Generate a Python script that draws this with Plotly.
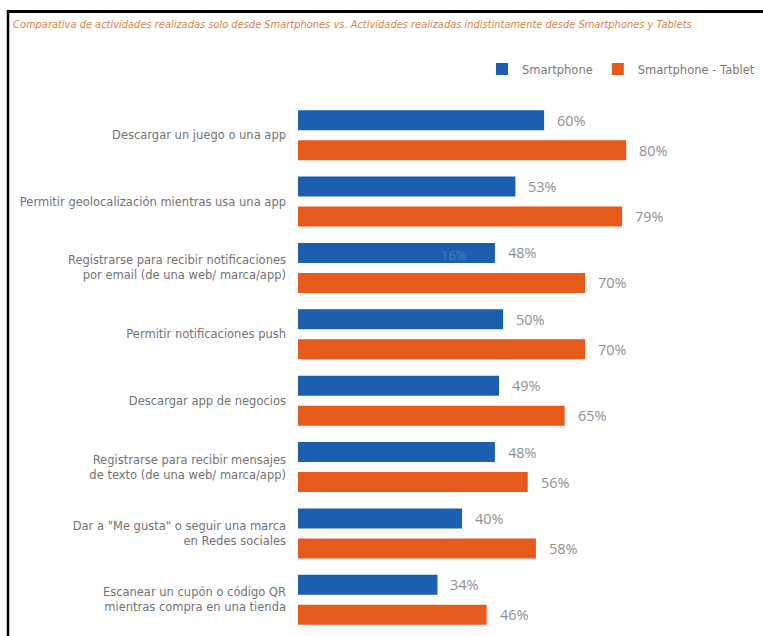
import plotly.graph_objects as go

# ---------------- data ----------------
categories = [
    "Descargar un juego o una app",
    "Permitir geolocalización mientras usa una app",
    "Registrarse para recibir notificaciones<br>por email (de una web/ marca/app)",
    "Permitir notificaciones push",
    "Descargar app de negocios",
    "Registrarse para recibir mensajes<br>de texto (de una web/ marca/app)",
    "Dar a \"Me gusta\" o seguir una marca<br>en Redes sociales",
    "Escanear un cupón o código QR<br>mientras compra en una tienda",
]
smartphone = [60, 53, 48, 50, 49, 48, 40, 34]
smartphone_tablet = [80, 79, 70, 70, 65, 56, 58, 46]
series_names = ["Smartphone", "Smartphone - Tablet"]
title_text = ("Comparativa de actividades realizadas solo desde Smartphones vs. "
              "Actividades realizadas indistintamente desde Smartphones y Tablets")
ghost_label = "16%"
ghost_value = 38
ghost_category_index = 2

# ---------------- layout constants ----------------
W, H = 763, 636
ML, MR, MT, MB = 298, 63, 102, 3
XMAX = 98.0
BLUE = "#1c5fb0"
ORANGE = "#e65a1c"
LABEL_GRAY = "#737373"
VALUE_GRAY = "#909090"
FONT = "DejaVu Sans"
VFONT = "Open Sans"

pw = W - ML - MR
ph = H - MT - MB


def px_x(px):
    return (px - ML) / pw


def px_y(py):
    return (H - MB - py) / ph


fig = go.Figure()
fig.add_trace(go.Bar(
    y=categories, x=smartphone, orientation="h", name=series_names[0],
    marker=dict(color=BLUE, line=dict(width=0)),
))
fig.add_trace(go.Bar(
    y=categories, x=smartphone_tablet, orientation="h", name=series_names[1],
    marker=dict(color=ORANGE, line=dict(width=0)),
))

annotations = []
for cat, v1, v2 in zip(categories, smartphone, smartphone_tablet):
    for v, shift in ((v1, 15), (v2, -15)):
        annotations.append(dict(
            x=v, y=cat, xref="x", yref="y", text=f"{v}%", showarrow=False,
            xanchor="left", yanchor="middle", xshift=11, yshift=shift,
            font=dict(family=VFONT, size=14.5, color=VALUE_GRAY),
        ))
# faint stray label visible inside one bar
annotations.append(dict(
    x=ghost_value, y=categories[ghost_category_index], xref="x", yref="y",
    text=ghost_label, showarrow=False, xanchor="center", yanchor="middle",
    yshift=13, font=dict(family=VFONT, size=13, color="rgba(120,150,200,0.55)"),
))

shapes = [
    dict(type="line", xref="paper", yref="paper",
         x0=px_x(7), x1=px_x(W + 2), y0=px_y(11.5), y1=px_y(11.5),
         line=dict(color="black", width=3)),
    dict(type="line", xref="paper", yref="paper",
         x0=px_x(8), x1=px_x(8), y0=px_y(10), y1=px_y(H + 2),
         line=dict(color="black", width=2.5)),
]

fig.update_layout(
    width=W, height=H,
    margin=dict(l=ML, r=MR, t=MT, b=MB, pad=0),
    paper_bgcolor="white", plot_bgcolor="white",
    barmode="group", bargap=0.096, bargroupgap=0.333,
    font=dict(family=FONT, color=LABEL_GRAY, size=11.5),
    title=dict(
        text=title_text, xref="container", yref="container",
        x=13 / W, xanchor="left", y=1 - 25 / H, yanchor="middle",
        font=dict(family=FONT, size=9.9, color="#d9834c", style="italic"),
    ),
    legend=dict(
        orientation="h", traceorder="normal",
        x=px_x(760), xanchor="right", y=px_y(69), yanchor="middle",
        font=dict(family=FONT, size=11.5, color="#7a7a7a"),
        itemwidth=30, bgcolor="rgba(0,0,0,0)",
    ),
    xaxis=dict(range=[0, XMAX], visible=False, fixedrange=True),
    yaxis=dict(
        autorange="reversed", showgrid=False, zeroline=False, showline=False,
        ticks="", ticklabelstandoff=11,
        tickfont=dict(family=FONT, size=11.5, color=LABEL_GRAY),
    ),
    annotations=annotations,
    shapes=shapes,
    showlegend=True,
)

fig.write_html("out.html")
